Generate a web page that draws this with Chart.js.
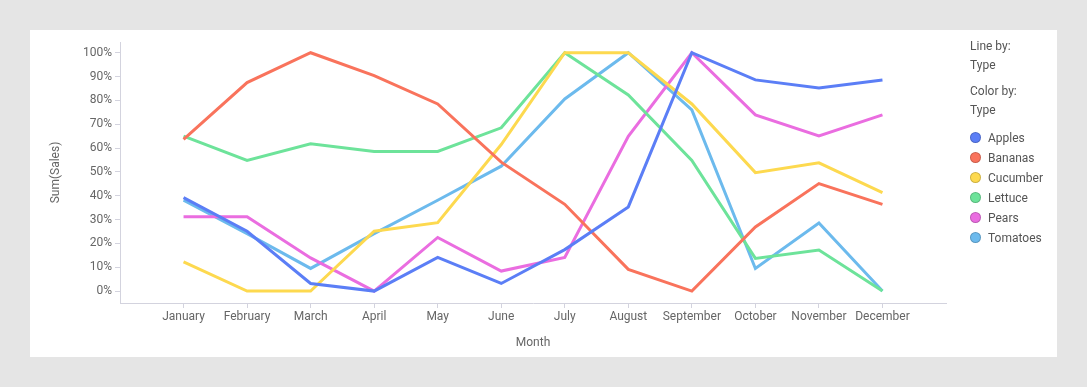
<!DOCTYPE html>
<html><head><meta charset="utf-8">
<script src="https://cdn.jsdelivr.net/npm/chart.js@4/dist/chart.umd.min.js"></script>
<style>
html,body{margin:0;padding:0;background:#e5e5e5;width:1087px;height:387px;overflow:hidden;font-family:Roboto,"Noto Sans",sans-serif;}
#panel{position:absolute;left:30px;top:30px;width:1027px;height:327px;background:#fff;}
#wrap{position:absolute;left:0;top:0;width:1027px;height:327px;}
#legend{position:absolute;left:940px;top:8px;font-size:12px;color:#555;}
#legend .h{position:absolute;left:0;white-space:nowrap;}
#legend .it{position:absolute;left:0;white-space:nowrap;height:16px;line-height:16px;}
#legend .dot{position:absolute;left:0;top:2px;width:11px;height:11px;border-radius:50%;box-sizing:border-box;}
#legend .lbl{position:absolute;left:18px;top:0;}
</style></head>
<body>
<div id="panel"><div id="wrap"><canvas id="c"></canvas></div><div id="legend"></div></div>
<script>
const months = ["January","February","March","April","May","June","July","August","September","October","November","December"];
const seriesNames = ["Apples","Bananas","Cucumber","Lettuce","Pears","Tomatoes"];
const seriesColors = ["#5b7ef6","#f9735c","#fdd94f","#6de39a","#ea6de0","#6cbaed"];
const apples   = [39.2,25.1,3.2,0,14.1,3.2,17.4,35.3,100,88.6,85.2,88.6];
const bananas  = [63.6,87.5,100,90.4,78.5,54.1,36.4,9.1,0,26.9,45.1,36.4];
const cucumber = [12.3,0,0,25.1,28.7,61.5,100,100,78.5,49.7,53.8,41.3];
const lettuce  = [65,54.8,61.8,58.6,58.6,68.5,100,82.3,54.8,13.7,17.2,0];
const pears    = [31.2,31.2,13.9,0,22.5,8.4,14.1,64.9,100,73.9,65.1,73.9];
const tomatoes = [38.1,24.1,9.5,24.1,38.1,52.4,80.6,100,76,9.5,28.6,0];
const yTicks = [0,10,20,30,40,50,60,70,80,90,100];
const allValues = [apples,bananas,cucumber,lettuce,pears,tomatoes];

const datasets = seriesNames.map((n,i)=>({
  label:n,
  data: allValues[i].map((v,k)=>({x:k,y:v})),
  borderColor: seriesColors[i],
  backgroundColor: seriesColors[i],
  borderWidth: 3,
  pointRadius: 0,
  tension: 0,
  fill:false
}));

const axisColor = "#d3d3de";
const tickFont = {family:"Roboto", size:12};
new Chart(document.getElementById('c'),{
  type:'line',
  data:{datasets},
  options:{
    responsive:true, maintainAspectRatio:false, animation:false,
    layout:{padding:{top:12,right:111,left:15,bottom:0}},
    plugins:{legend:{display:false},tooltip:{enabled:false}},
    scales:{
      x:{type:'linear',min:-1,max:12,
        afterBuildTicks:s=>{s.ticks=months.map((m,i)=>({value:i}));},
        afterFit:s=>{s.height=54;},
        ticks:{autoSkip:false,maxRotation:0,color:"#666",font:tickFont,padding:2,callback:v=>months[v]||''},
        grid:{display:true,drawOnChartArea:false,tickLength:5,color:axisColor},
        border:{color:axisColor},
        title:{display:true,text:"Month",color:"#666",font:tickFont,padding:{top:2,bottom:7}}
      },
      y:{type:'linear',min:-5,max:104.5,
        afterBuildTicks:s=>{s.ticks=yTicks.map(v=>({value:v}));},
        afterFit:s=>{s.width=75;},
        ticks:{color:"#666",font:tickFont,padding:3,callback:v=>v+'%'},
        grid:{display:true,drawOnChartArea:false,tickLength:5,color:axisColor},
        border:{color:axisColor},
        title:{display:true,text:"Sum(Sales)",color:"#666",font:tickFont,padding:{bottom:4}}
      }
    }
  }
});

const lg = document.getElementById('legend');
let html = '';
html += '<div class="h" style="top:1px">Line by:</div>';
html += '<div class="h" style="top:20px">Type</div>';
html += '<div class="h" style="top:46px">Color by:</div>';
html += '<div class="h" style="top:65px">Type</div>';
seriesNames.forEach((n,i)=>{
  html += '<div class="it" style="top:'+(92+i*20)+'px"><div class="dot" style="background:'+seriesColors[i]+';border:1px solid rgba(0,0,0,0.18)"></div><div class="lbl">'+n+'</div></div>';
});
lg.innerHTML = html;
</script>
</body></html>
